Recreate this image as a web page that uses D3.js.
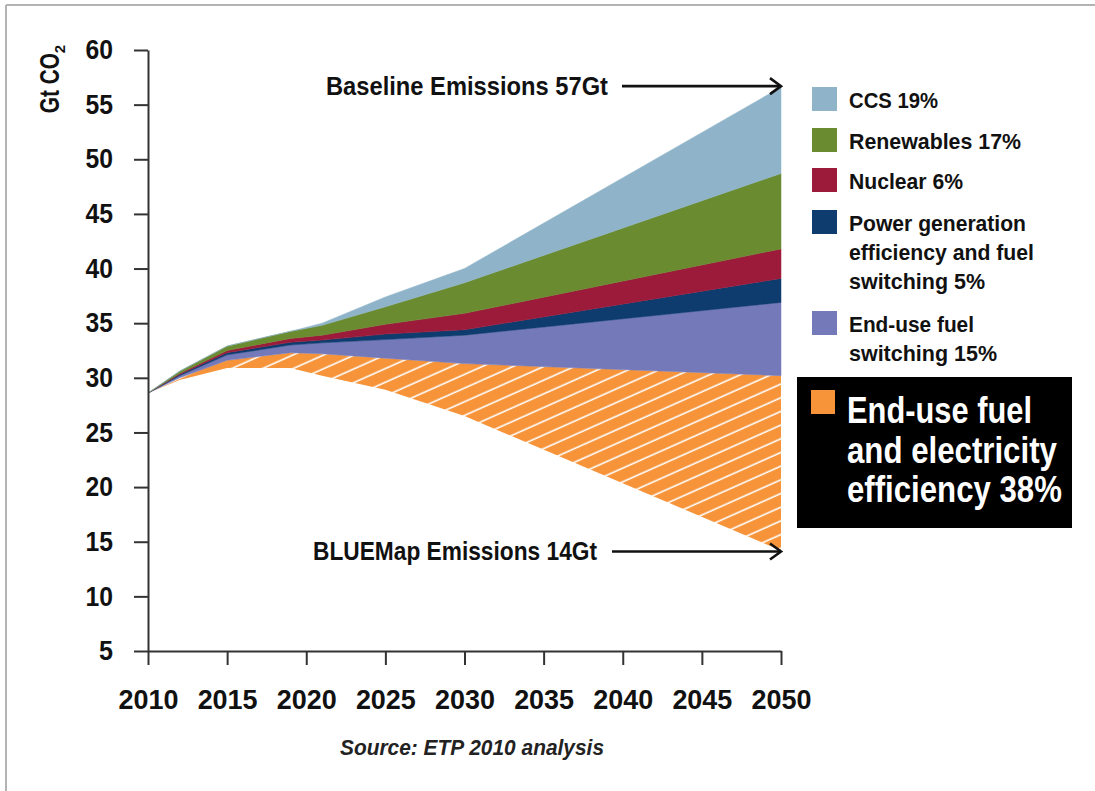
<!DOCTYPE html>
<html>
<head>
<meta charset="utf-8">
<script src="https://cdn.jsdelivr.net/npm/d3@7"></script>
<style>
  html, body { margin: 0; padding: 0; background: #fff; }
  svg { display: block; }
  text { font-family: 'Liberation Sans', Arial, sans-serif; font-weight: bold; }
</style>
</head>
<body>
<svg id="chart" width="1095" height="791"></svg>
<script>
// ---- Data (Gt CO2) ----
const years = [2010, 2012, 2015, 2019, 2021, 2025, 2030, 2050];
const blueMapEmissions   = [28.6, 29.8, 30.9, 30.9, 30.2, 28.9, 26.5, 14.2];
const endUseEfficiency   = [0, 0.2, 0.7, 1.4, 2.0, 2.9, 4.8, 16.0];
const endUseSwitching    = [0, 0.2, 0.5, 0.7, 1.0, 1.7, 2.6, 6.7];
const powerGeneration    = [0, 0.1, 0.2, 0.25, 0.25, 0.5, 0.5, 2.2];
const nuclear            = [0, 0.1, 0.2, 0.35, 0.45, 0.9, 1.5, 2.7];
const renewables         = [0, 0.2, 0.4, 0.65, 0.9, 1.6, 2.8, 6.9];
const ccs                = [0, 0, 0, 0, 0.2, 0.9, 1.3, 7.9];

const yTicks = [5, 10, 15, 20, 25, 30, 35, 40, 45, 50, 55, 60];
const xTicks = [2010, 2015, 2020, 2025, 2030, 2035, 2040, 2045, 2050];

const seriesKeys = ["blueMap", "endUseEff", "endUseSwitch", "powerGen", "nuclear", "renewables", "ccs"];
const seriesColors = {
  endUseEff: "#f7943a",
  endUseSwitch: "#7479b9",
  powerGen: "#0e3c6e",
  nuclear: "#9c1b3b",
  renewables: "#6b8b30",
  ccs: "#8fb4c9"
};
const legendItems = [
  { key: "ccs", lines: ["CCS 19%"] },
  { key: "renewables", lines: ["Renewables 17%"] },
  { key: "nuclear", lines: ["Nuclear 6%"] },
  { key: "powerGen", lines: ["Power generation", "efficiency and fuel", "switching 5%"] },
  { key: "endUseSwitch", lines: ["End-use fuel", "switching 15%"] }
];
const boxLabel = ["End-use fuel", "and electricity", "efficiency 38%"];
const baselineLabel = "Baseline Emissions 57Gt";
const blueMapLabel = "BLUEMap Emissions 14Gt";
const sourceLabel = "Source: ETP 2010 analysis";

// ---- Build table ----
const rows = years.map((yr, i) => ({
  year: yr,
  blueMap: blueMapEmissions[i],
  endUseEff: endUseEfficiency[i],
  endUseSwitch: endUseSwitching[i],
  powerGen: powerGeneration[i],
  nuclear: nuclear[i],
  renewables: renewables[i],
  ccs: ccs[i]
}));

const svg = d3.select("#chart");

// condensed look: fit measured width
function fit(sel, w) {
  sel.attr("textLength", w).attr("lengthAdjust", "spacingAndGlyphs");
  return sel;
}
// condensed look via horizontal scaling (keeps real bbox)
function squeeze(sel, px, py, w) {
  const n = sel.node();
  const natural = n.getComputedTextLength();
  const s = natural > 0 ? w / natural : 1;
  sel.attr("x", 0).attr("y", 0).attr("transform", `translate(${px},${py}) scale(${s},1)`);
  return sel;
}

// frame
svg.append("line").attr("x1", 6).attr("x2", 1095).attr("y1", 5).attr("y2", 5)
  .attr("stroke", "#b3b3b3").attr("stroke-width", 2);
svg.append("line").attr("x1", 6).attr("x2", 6).attr("y1", 5).attr("y2", 791)
  .attr("stroke", "#b3b3b3").attr("stroke-width", 2);

const x = d3.scaleLinear().domain([2010, 2050]).range([148, 781]);
const y = d3.scaleLinear().domain([5, 60]).range([651, 50]);

// hatch pattern
const defs = svg.append("defs");
const pat = defs.append("pattern").attr("id", "hatch")
  .attr("patternUnits", "userSpaceOnUse")
  .attr("width", 12).attr("height", 12.5)
  .attr("patternTransform", "rotate(-24)");
pat.append("rect").attr("width", 12).attr("height", 12.5).attr("fill", seriesColors.endUseEff);
pat.append("line").attr("x1", 0).attr("x2", 12).attr("y1", 6).attr("y2", 6)
  .attr("stroke", "#fff").attr("stroke-width", 1.6);

const stacked = d3.stack().keys(seriesKeys)(rows);

const area = d3.area()
  .x(d => x(d.data.year))
  .y0(d => y(d[0]))
  .y1(d => y(d[1]));

svg.append("g").selectAll("path")
  .data(stacked.filter(s => s.key !== "blueMap"))
  .join("path")
  .attr("d", area)
  .attr("fill", s => s.key === "endUseEff" ? "url(#hatch)" : seriesColors[s.key])
  .attr("stroke", s => s.key === "endUseEff" ? "none" : seriesColors[s.key])
  .attr("stroke-width", 0.5);

// axes
const yAxis = d3.axisLeft(y).tickValues(yTicks).tickSize(14).tickPadding(21).tickSizeOuter(0);
const gy = svg.append("g").attr("transform", "translate(148,0)").call(yAxis);
gy.select(".domain").attr("stroke", "#333").attr("stroke-width", 2);
gy.selectAll(".tick line").attr("stroke", "#333").attr("stroke-width", 2);
gy.selectAll(".tick text").attr("font-size", 27).attr("fill", "#111")
  .style("font-family", "'Liberation Sans', Arial, sans-serif")
  .style("font-weight", "bold")
  .attr("textLength", d => d >= 10 ? 27.5 : 14)
  .attr("lengthAdjust", "spacingAndGlyphs");

const xAxis = d3.axisBottom(x).tickValues(xTicks).tickFormat(d3.format("d"))
  .tickSize(14).tickPadding(24).tickSizeOuter(0);
const gx = svg.append("g").attr("transform", "translate(0,651)").call(xAxis);
gx.select(".domain").attr("stroke", "#333").attr("stroke-width", 2);
gx.selectAll(".tick line").attr("stroke", "#333").attr("stroke-width", 2);
gx.selectAll(".tick text").attr("font-size", 28).attr("fill", "#111")
  .style("font-family", "'Liberation Sans', Arial, sans-serif")
  .style("font-weight", "bold")
  .attr("textLength", 60)
  .attr("lengthAdjust", "spacingAndGlyphs");

// y title
const yt = svg.append("text")
  .attr("transform", "translate(59,79) rotate(-90)")
  .attr("text-anchor", "middle")
  .attr("font-size", 28).attr("fill", "#111");
yt.append("tspan").text("Gt CO").attr("textLength", 60).attr("lengthAdjust", "spacingAndGlyphs");
yt.append("tspan").text("2").attr("font-size", 15).attr("dy", 6);

// arrows
function arrow(x1, x2, yy) {
  const g = svg.append("g").attr("stroke", "#111").attr("stroke-width", 2.6).attr("fill", "none");
  g.append("line").attr("x1", x1).attr("x2", x2 - 1).attr("y1", yy).attr("y2", yy);
  g.append("path").attr("d", `M${x2 - 11},${yy - 8} L${x2},${yy} L${x2 - 11},${yy + 8}`)
    .attr("stroke-linejoin", "miter");
}
const last = years.length - 1;
const baseTop = stacked[stacked.length - 1][last][1];
const yBase = y(baseTop) - 1;
const yBlue = y(blueMapEmissions[last]) + 1;
arrow(622, x(2050), yBase);
arrow(612, x(2050), yBlue);

fit(svg.append("text").attr("x", 608).attr("y", yBase + 9).attr("text-anchor", "end")
  .attr("font-size", 25).attr("fill", "#111").text(baselineLabel), 282);
fit(svg.append("text").attr("x", 597).attr("y", yBlue + 9).attr("text-anchor", "end")
  .attr("font-size", 25).attr("fill", "#111").text(blueMapLabel), 284);

// legend
const legendTop = [87, 128, 168, 210, 311];
const legendWidths = [[89], [172], [114], [177, 185, 136], [125, 148]];
legendItems.forEach((it, i) => {
  const ty = legendTop[i];
  svg.append("rect").attr("x", 812).attr("y", ty).attr("width", 25).attr("height", 24)
    .attr("fill", seriesColors[it.key]);
  it.lines.forEach((ln, j) => {
    fit(svg.append("text").attr("x", 849).attr("y", ty + 21 + j * 29)
      .attr("font-size", 22).attr("fill", "#111").text(ln), legendWidths[i][j]);
  });
});

// black box
svg.append("rect").attr("x", 797).attr("y", 377).attr("width", 275).attr("height", 151)
  .attr("fill", "#000");
svg.append("rect").attr("x", 811).attr("y", 390).attr("width", 24).attr("height", 24)
  .attr("fill", seriesColors.endUseEff);
const boxWidths = [185, 210, 215];
boxLabel.forEach((ln, j) => {
  const t = svg.append("text").attr("font-size", 37).attr("fill", "#fff").text(ln);
  squeeze(t, 847, 423 + j * 39.5, boxWidths[j]);
});

// source
fit(svg.append("text").attr("x", 472).attr("y", 755).attr("text-anchor", "middle")
  .attr("font-size", 22).attr("font-style", "italic").attr("fill", "#222").text(sourceLabel), 264);
</script>
</body>
</html>
